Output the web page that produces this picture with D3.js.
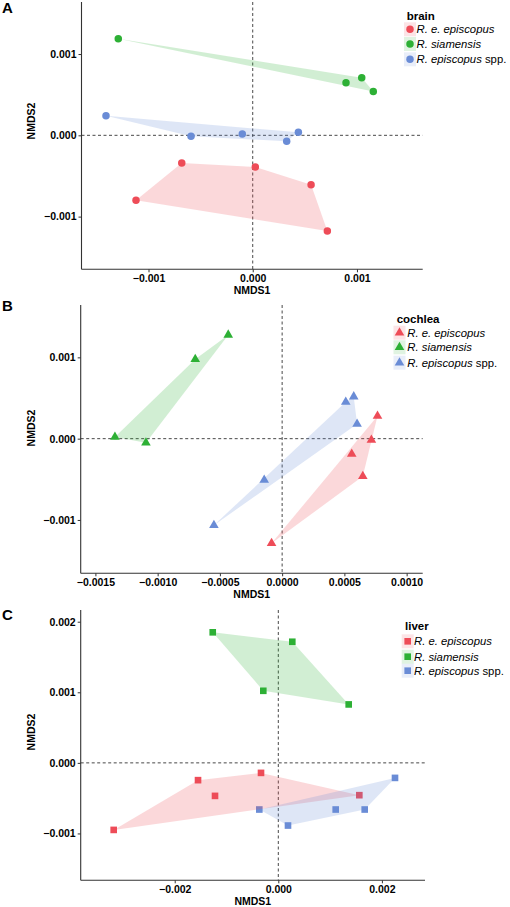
<!DOCTYPE html>
<html>
<head>
<meta charset="utf-8">
<script src="https://cdn.jsdelivr.net/npm/d3@7/dist/d3.min.js"></script>
<style>
  html, body { margin: 0; padding: 0; background: #fff; }
  svg { display: block; font-family: "Liberation Sans", Arial, Helvetica, sans-serif; }
</style>
</head>
<body>
<svg id="chart" width="510" height="907"></svg>
<script>
// ---------------- DATA ----------------
const groups = ["R. e. episcopus", "R. siamensis", "R. episcopus spp."];
const groupColors = ["#EE4C58", "#2DB035", "#6A8CD6"];

// brain (NMDS1, NMDS2)
const brainRee = [[-0.000681, -0.000341], [0.000025, -0.00039], [-0.00112, -0.0008], [0.00056, -0.000607], [0.000716, -0.001177]];
const brainRsi = [[-0.00129, 0.001188], [0.000895, 0.000647], [0.001046, 0.000709], [0.001157, 0.000539]];
const brainRsp = [[-0.001408, 0.000241], [-0.000592, -0.00001], [-0.0001, 0.000016], [0.000438, 0.000037], [0.000326, -0.000074]];

// cochlea
const cochleaRee = [[-0.000085, -0.001287], [0.000766, 0.000279], [0.000717, -0.000016], [0.000559, -0.000188], [0.000648, -0.000463]];
const cochleaRsi = [[-0.000433, 0.001276], [-0.000698, 0.000977], [-0.001343, 0.00002], [-0.001094, -0.00005]];
const cochleaRsp = [[-0.000548, -0.001065], [-0.000144, -0.000508], [0.000511, 0.000451], [0.000575, 0.000517], [0.000602, 0.000181]];

// liver
const liverRee = [[-0.003178, -0.00095], [-0.00155, -0.000245], [-0.001222, -0.000468], [-0.000334, -0.000142], [0.001564, -0.000458]];
const liverRsi = [[-0.001266, 0.00185], [-0.00029, 0.001021], [0.00027, 0.001716], [0.001359, 0.000828]];
const liverRsp = [[-0.000367, -0.000661], [0.000187, -0.000888], [0.001108, -0.000661], [0.001668, -0.000661], [0.002253, -0.000213]];

// axis limits and ticks
const brainXLim = [-0.001643, 0.001631], brainYLim = [-0.001648, 0.00164];
const cochleaXLim = [-0.001618, 0.001129], cochleaYLim = [-0.001656, 0.001644];
const liverXLim = [-0.003815, 0.002832], liverYLim = [-0.001664, 0.002166];

const brainXTicks = [-0.001, 0, 0.001], brainYTicks = [-0.001, 0, 0.001];
const cochleaXTicks = [-0.0015, -0.001, -0.0005, 0, 0.0005, 0.001], cochleaYTicks = [-0.001, 0, 0.001];
const liverXTicks = [-0.002, 0, 0.002], liverYTicks = [-0.001, 0, 0.001, 0.002];

const brainXFmt = ".3f", cochleaXFmt = ".4f", liverXFmt = ".3f";

// ---------------- DRAW ----------------
const svg = d3.select("#chart");
const FONT = "\"Liberation Sans\", Arial, Helvetica, sans-serif";
const AX = "#333333";

function fmtNum(f) {
  const g = d3.format(f);
  return v => g(v).replace("-", "\u2212");
}

const panels = [
  { letter: "A", title: "brain", sets: [brainRee, brainRsi, brainRsp], symbol: d3.symbolCircle, size: 44,
    xLim: brainXLim, yLim: brainYLim, xTicks: brainXTicks, yTicks: brainYTicks, xFmt: brainXFmt,
    box: { l: 81.5, r: 422.7, t: 2, b: 269.3 }, yTitleY: 121,
    leg: { tx: 406.7, ty: 15.7, mx: 410, lx: 416.5, rows: [29.3, 44, 59.3] }, letterY: 13 },
  { letter: "B", title: "cochlea", sets: [cochleaRee, cochleaRsi, cochleaRsp], symbol: d3.symbolTriangle, size: 40,
    xLim: cochleaXLim, yLim: cochleaYLim, xTicks: cochleaXTicks, yTicks: cochleaYTicks, xFmt: cochleaXFmt,
    box: { l: 80.7, r: 422.7, t: 305, b: 573.3 }, yTitleY: 428,
    leg: { tx: 396.7, ty: 319, mx: 399.5, lx: 407.3, rows: [332.7, 347.3, 362.7] }, letterY: 311 },
  { letter: "C", title: "liver", sets: [liverRee, liverRsi, liverRsp], symbol: d3.symbolSquare, size: 44,
    xLim: liverXLim, yLim: liverYLim, xTicks: liverXTicks, yTicks: liverYTicks, xFmt: liverXFmt,
    box: { l: 80.7, r: 425, t: 610, b: 880.3 }, yTitleY: 732,
    leg: { tx: 405, ty: 626, mx: 407.7, lx: 414, rows: [641.3, 656.7, 670.7] }, letterY: 620 }
];

panels.forEach(p => {
  const g = svg.append("g");
  const x = d3.scaleLinear().domain(p.xLim).range([p.box.l, p.box.r]);
  const y = d3.scaleLinear().domain(p.yLim).range([p.box.b, p.box.t]);

  // dashed zero lines
  g.append("line").attr("x1", x(0)).attr("x2", x(0)).attr("y1", p.box.t).attr("y2", p.box.b)
    .attr("stroke", AX).attr("stroke-width", 0.9).attr("stroke-dasharray", "3,2.5");
  g.append("line").attr("x1", p.box.l).attr("x2", p.box.r).attr("y1", y(0)).attr("y2", y(0))
    .attr("stroke", AX).attr("stroke-width", 0.9).attr("stroke-dasharray", "3,2.5");

  // points (drawn first; hull fills layered over them)
  p.sets.forEach((set, gi) => {
    g.append("g").selectAll("path").data(set).join("path")
      .attr("d", d3.symbol().type(p.symbol).size(p.size))
      .attr("transform", d => `translate(${x(d[0])},${y(d[1])})`)
      .attr("fill", groupColors[gi]);
  });
  // hulls
  p.sets.forEach((set, gi) => {
    const pts = set.map(d => [x(d[0]), y(d[1])]);
    const hull = d3.polygonHull(pts);
    g.append("path").attr("d", "M" + hull.join("L") + "Z")
      .attr("fill", groupColors[gi]).attr("fill-opacity", 0.22).attr("stroke", "none");
  });

  // axes
  const xAxis = d3.axisBottom(x).tickValues(p.xTicks).tickSize(3).tickPadding(2).tickFormat(fmtNum(p.xFmt));
  const yAxis = d3.axisLeft(y).tickValues(p.yTicks).tickSize(3).tickPadding(2).tickFormat(fmtNum(".3f"));
  const gx = g.append("g").attr("transform", `translate(0,${p.box.b})`).call(xAxis);
  const gy = g.append("g").attr("transform", `translate(${p.box.l},0)`).call(yAxis);
  [gx, gy].forEach(a => {
    a.select(".domain").attr("stroke", AX).attr("stroke-width", 1.1);
    a.selectAll(".tick line").attr("stroke", AX).attr("stroke-width", 1);
    a.selectAll(".tick text").attr("fill", "#000").attr("font-size", 10.5).attr("font-weight", "bold").attr("font-family", FONT);
  });
  gx.select(".domain").attr("d", `M${p.box.l},0H${p.box.r}`);
  gy.select(".domain").attr("d", `M0,${p.box.t}V${p.box.b}`);

  // axis titles
  g.append("text").attr("x", (p.box.l + p.box.r) / 2).attr("y", p.box.b + 24.5)
    .attr("text-anchor", "middle").attr("font-size", 10.5).attr("font-weight", "bold").text("NMDS1");
  g.append("text").attr("transform", `translate(35.3,${p.yTitleY}) rotate(-90)`)
    .attr("text-anchor", "middle").attr("font-size", 10.5).attr("font-weight", "bold").text("NMDS2");

  // panel letter
  g.append("text").attr("x", 2).attr("y", p.letterY).attr("font-size", 15).attr("font-weight", "bold").text(p.letter);

  // legend
  const L = p.leg;
  g.append("text").attr("x", L.tx).attr("y", L.ty + 4).attr("font-size", 11.5).attr("font-weight", "bold").text(p.title);
  groups.forEach((name, gi) => {
    const cy = L.rows[gi];
    g.append("rect").attr("x", L.mx - 6).attr("y", cy - 7).attr("width", 12).attr("height", 14)
      .attr("fill", groupColors[gi]).attr("fill-opacity", 0.15);
    g.append("path").attr("d", d3.symbol().type(p.symbol).size(p.size)())
      .attr("transform", `translate(${L.mx},${cy})`).attr("fill", groupColors[gi]);
    const t = g.append("text").attr("x", L.lx).attr("y", cy + 4.1).attr("font-size", 11.3);
    if (name.endsWith(" spp.")) {
      t.append("tspan").attr("font-style", "italic").text(name.replace(" spp.", ""));
      t.append("tspan").text(" spp.");
    } else {
      t.append("tspan").attr("font-style", "italic").text(name);
    }
  });
});
</script>
</body>
</html>
